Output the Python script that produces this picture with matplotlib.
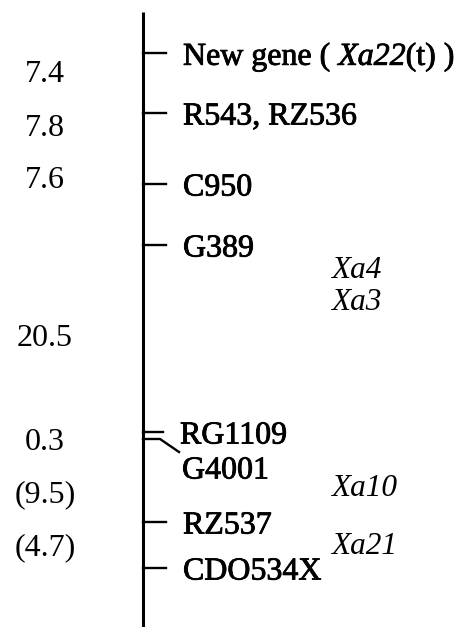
import matplotlib.pyplot as plt
import matplotlib.patheffects as pe

# the math part only holds the gene symbol, so set both to italic (digits use rm)
plt.rcParams["mathtext.fontset"] = "custom"
plt.rcParams["mathtext.it"] = "Liberation Serif:italic"
plt.rcParams["mathtext.rm"] = "Liberation Serif:italic"

# locus markers on the chromosome (drawing positions along the bar, top -> bottom)
marker_names = ["New gene ( $\\mathit{Xa22}$(t) )", "R543, RZ536", "C950", "G389",
                "RG1109", "G4001", "RZ537", "CDO534X"]
marker_pos = [53, 113, 184, 245, 432, 439, 522, 568]

# map distances (cM) shown on the left side, between markers
distances = ["7.4", "7.8", "7.6", "20.5", "0.3", "(9.5)", "(4.7)"]
distance_pos = [74, 128, 181, 339, 442, 495, 548]

# resistance genes placed beside the map
genes = ["Xa4", "Xa3", "Xa10", "Xa21"]
gene_pos = [270, 302, 488, 547]

fig = plt.figure(figsize=(4.62, 6.27), dpi=100)
ax = fig.add_axes([0, 0, 1, 1])
ax.set_xlim(0, 462)
ax.set_ylim(627, 0)
ax.axis("off")

serif = ["Liberation Serif", "DejaVu Serif"]
ink = [pe.withStroke(linewidth=0.6, foreground="black")]
bar_x = 143

# chromosome bar
ax.plot([bar_x, bar_x], [12, 627], color="black", lw=2.2, solid_capstyle="butt")

for name, y in zip(marker_names, marker_pos):
    if name == "G4001":
        # the tick bends away from RG1109 so the labels don't collide
        ax.plot([bar_x, 160, 179], [y, y, y + 13], color="black", lw=1.7)
        ax.text(182, y + 32, name, fontsize=23, family=serif, path_effects=ink,
                va="center", ha="left")
    elif name == "RG1109":
        ax.plot([bar_x, 163], [y, y], color="black", lw=1.7)
        ax.text(180, y + 4, name, fontsize=23, family=serif, path_effects=ink,
                va="center", ha="left")
    else:
        ax.plot([bar_x, 166], [y, y], color="black", lw=1.7)
        ax.text(183, y + 4, name, fontsize=23, family=serif, path_effects=ink,
                va="center", ha="left")

for d, y in zip(distances, distance_pos):
    ax.text(45, y, d, fontsize=23, family=serif, va="center", ha="center")

for g, y in zip(genes, gene_pos):
    ax.text(331, y, g, fontsize=22.5, style="italic", family=serif,
            va="center", ha="left")

fig.savefig("out.png", dpi=100)
